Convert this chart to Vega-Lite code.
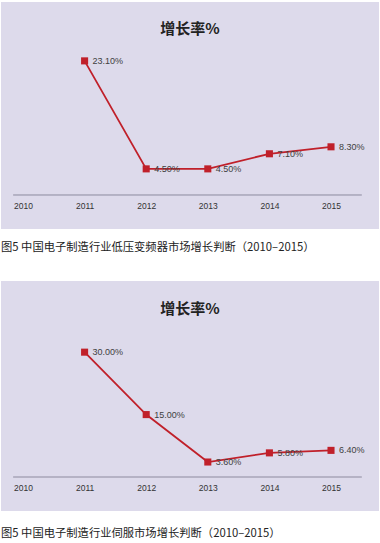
{
  "$schema": "https://vega.github.io/schema/vega-lite/v6.json",
  "background": "white",
  "padding": {"left": 1, "top": 2, "right": 1, "bottom": 0},
  "spacing": 27,
  "config": {
    "view": {"stroke": null},
    "axisX": {"domain": false, "ticks": false, "grid": false, "labelFont": "Liberation Sans", "labelFontSize": 8.5, "labelColor": "#333333", "labelPadding": 0, "offset": -24, "title": null, "labelBaseline": "middle"},
    "title": {"font": "Noto Sans CJK SC", "color": "#222222"}
  },
  "vconcat": [
    {
      "title": {"text": "图5 中国电子制造行业低压变频器市场增长判断（2010–2015）", "orient": "bottom", "anchor": "start", "fontSize": 11.3, "fontWeight": "normal", "offset": 13, "baseline": "top"},
      "vconcat": [
        {
          "width": 378,
          "height": 227,
          "view": {"fill": "#dddaeb", "stroke": null},
          "title": {"text": "增长率%", "fontSize": 15, "fontWeight": "bold", "anchor": "middle", "offset": -42, "baseline": "middle"},
          "layer": [
            {
              "data": {"values": [{"from": 2009.84, "to": 2015.5, "level": 0}]},
              "mark": {"type": "rule", "color": "#8d8a9e", "strokeWidth": 1},
              "encoding": {
                "x": {"field": "from", "type": "quantitative", "scale": {"domain": [2009.643, 2015.779], "nice": false, "zero": false}},
                "x2": {"field": "to"},
                "y": {"field": "level", "type": "quantitative", "scale": {"domain": [-5.856, 33.24], "nice": false, "zero": false}, "axis": null}
              }
            },
            {
              "data": {"values": [
                {"year": 2011, "rate": 23.1, "label": "23.10%"},
                {"year": 2012, "rate": 4.5, "label": "4.50%"},
                {"year": 2013, "rate": 4.5, "label": "4.50%"},
                {"year": 2014, "rate": 7.1, "label": "7.10%"},
                {"year": 2015, "rate": 8.3, "label": "8.30%"}
              ]},
              "encoding": {
                "x": {"field": "year", "type": "quantitative", "axis": {"values": [2010, 2011, 2012, 2013, 2014, 2015], "format": "d"}},
                "y": {"field": "rate", "type": "quantitative"}
              },
              "layer": [
                {"mark": {"type": "line", "color": "#c0202a", "strokeWidth": 1.8}},
                {"mark": {"type": "square", "color": "#c0202a", "size": 50, "opacity": 1, "filled": true}},
                {
                  "mark": {"type": "text", "align": "left", "baseline": "middle", "dx": 8, "font": "Liberation Sans", "fontSize": 9, "color": "#404040"},
                  "encoding": {"text": {"field": "label"}}
                }
              ]
            }
          ]
        }
      ]
    },
    {
      "title": {"text": "图5 中国电子制造行业伺服市场增长判断（2010–2015）", "orient": "bottom", "anchor": "start", "fontSize": 11.3, "fontWeight": "normal", "offset": 17, "baseline": "top"},
      "vconcat": [
        {
          "width": 378,
          "height": 230,
          "view": {"fill": "#dddaeb", "stroke": null},
          "title": {"text": "增长率%", "fontSize": 15, "fontWeight": "bold", "anchor": "middle", "offset": -43, "baseline": "middle"},
          "layer": [
            {
              "data": {"values": [{"from": 2009.84, "to": 2015.5, "level": 0}]},
              "mark": {"type": "rule", "color": "#8d8a9e", "strokeWidth": 1},
              "encoding": {
                "x": {"field": "from", "type": "quantitative", "scale": {"domain": [2009.643, 2015.779], "nice": false, "zero": false}},
                "x2": {"field": "to"},
                "y": {"field": "level", "type": "quantitative", "scale": {"domain": [-8.17, 47.1], "nice": false, "zero": false}, "axis": null}
              }
            },
            {
              "data": {"values": [
                {"year": 2011, "rate": 30.0, "label": "30.00%"},
                {"year": 2012, "rate": 15.0, "label": "15.00%"},
                {"year": 2013, "rate": 3.6, "label": "3.60%"},
                {"year": 2014, "rate": 5.8, "label": "5.80%"},
                {"year": 2015, "rate": 6.4, "label": "6.40%"}
              ]},
              "encoding": {
                "x": {"field": "year", "type": "quantitative", "axis": {"values": [2010, 2011, 2012, 2013, 2014, 2015], "format": "d"}},
                "y": {"field": "rate", "type": "quantitative"}
              },
              "layer": [
                {"mark": {"type": "line", "color": "#c0202a", "strokeWidth": 1.8}},
                {"mark": {"type": "square", "color": "#c0202a", "size": 50, "opacity": 1, "filled": true}},
                {
                  "mark": {"type": "text", "align": "left", "baseline": "middle", "dx": 8, "font": "Liberation Sans", "fontSize": 9, "color": "#404040"},
                  "encoding": {"text": {"field": "label"}}
                }
              ]
            }
          ]
        }
      ]
    }
  ]
}
